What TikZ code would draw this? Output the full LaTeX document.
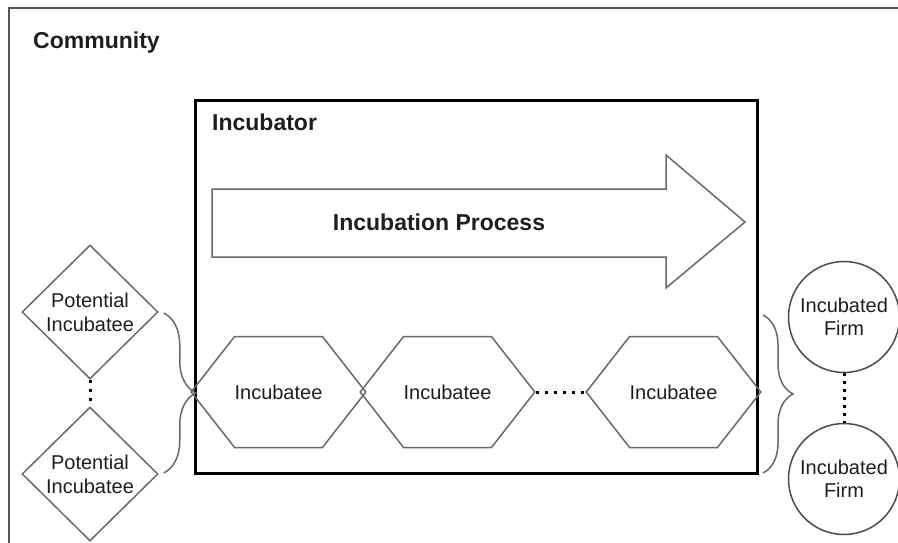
\documentclass[tikz,border=0pt]{standalone}
\usepackage{fontspec}
\setmainfont{Liberation Sans}
\usepackage{tikz}
\usetikzlibrary{shapes.geometric,shapes.symbols,decorations.pathreplacing,calc}
\definecolor{edgegr}{RGB}{105,105,105}
\definecolor{firmgr}{RGB}{75,75,75}
\definecolor{inkcol}{RGB}{30,30,30}

\begin{document}
\begin{tikzpicture}[x=1pt, y=-1pt, font=\fontsize{20}{24}\selectfont, text=inkcol,
    boldlabel/.style={font=\fontsize{23}{27}\selectfont\bfseries, anchor=base west, inner sep=0pt},
    hexbox/.style={signal, signal to=east and west, signal pointer angle=104,
      draw=edgegr, line width=1.5pt, minimum width=169pt, minimum height=111pt, inner sep=0pt},
    potbox/.style={diamond, aspect=1, draw=edgegr, line width=1.5pt, align=center,
      minimum width=136pt, minimum height=134pt, inner sep=0pt},
    firmbox/.style={circle, draw=firmgr, line width=1.5pt, align=center,
      font=\fontsize{20}{23}\selectfont, minimum size=111pt, inner sep=0pt},
    dotline/.style={line width=3pt, dash pattern=on 3pt off 6pt},
    bracket/.style={draw=edgegr, line width=1.5pt, decorate, decoration={brace, amplitude=#1}}]
    \clip (0,0) rectangle (898,542);

    % Community frame (runs off the page right and below)
    \draw[edgegr!80!black, line width=2pt] (9,8) rectangle (930,580);
    \node[boldlabel] (community) at (33,48) {Community};

    % Incubator box
    \draw[black, line width=3pt] (195,100) rectangle (757,473);
    \node[boldlabel] (incubator) at (212,130) {Incubator};

    % Process arrow
    \draw[edgegr, line width=1.5pt, fill=white]
      (212,189) -- (666,189) -- (666,155) -- (745,222) -- (666,288) --
      (666,257) -- (212,257) -- cycle;
    \node[font=\fontsize{23}{27}\selectfont\bfseries] (process) at (439,222) {Incubation Process};

    % Incubatees
    \node[hexbox] (inc1) at (278.5,392) {Incubatee};
    \node[hexbox] (inc2) at (447.5,392) {Incubatee};
    \node[hexbox] (inc3) at (673.5,392) {Incubatee};
    \draw[dotline] (inc2.east) -- (inc3.west);

    % Potential incubatees
    \node[potbox] (pot1) at (90,312) {Potential\\Incubatee};
    \node[potbox] (pot2) at (90,474) {Potential\\Incubatee};
    \draw[dotline] (pot1.south) -- (pot2.north);

    % Incubated firms
    \node[firmbox] (firm1) at (844,317) {Incubated\\Firm};
    \node[firmbox] (firm2) at (844,479) {Incubated\\Firm};
    \draw[dotline, dash pattern=on 3pt off 5pt] (firm1.south) -- (firm2.north);

    % Braces
    \coordinate (inbrtop) at ($(pot1.east)+(5,1)$);
    \coordinate (inbrbot) at ($(pot2.east)+(5,-1)$);
    \draw[bracket=32pt] (inbrtop) -- (inbrbot);
    \coordinate (outbrtop) at (763,315);
    \coordinate (outbrbot) at (763,473);
    \draw[bracket=30pt] (outbrtop) -- (outbrbot);
\end{tikzpicture}
\end{document}
